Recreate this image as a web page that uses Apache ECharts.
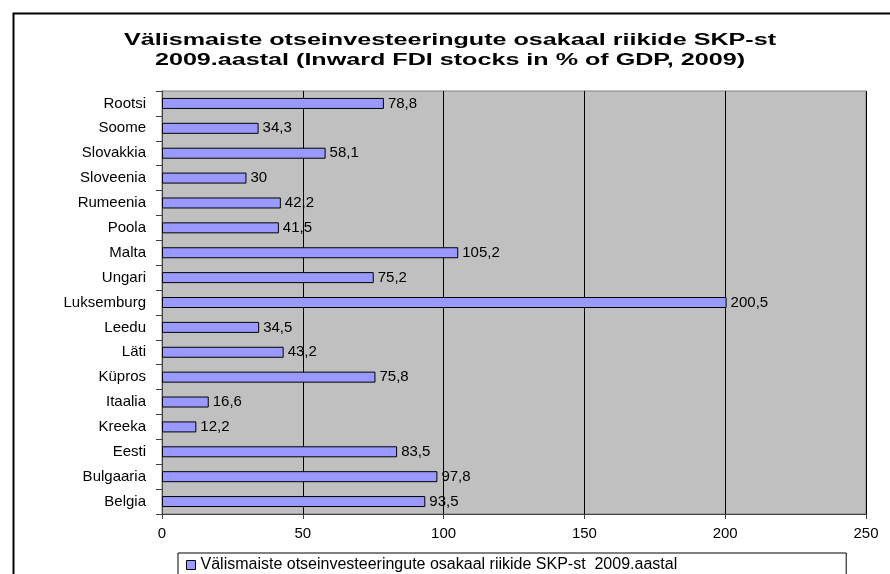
<!DOCTYPE html>
<html>
<head>
<meta charset="utf-8">
<script src="https://cdn.jsdelivr.net/npm/echarts@6/dist/echarts.min.js"></script>
<style>
  html, body { margin: 0; padding: 0; background: #fff; }
  #chart { width: 890px; height: 574px; }
</style>
</head>
<body>
<div id="chart"></div>
<script>
// riigid ülevalt alla
const countries = ['Rootsi', 'Soome', 'Slovakkia', 'Sloveenia', 'Rumeenia', 'Poola', 'Malta', 'Ungari',
  'Luksemburg', 'Leedu', 'Läti', 'Küpros', 'Itaalia', 'Kreeka', 'Eesti', 'Bulgaaria', 'Belgia']
const fdiShare = [78.8, 34.3, 58.1, 30, 42.2, 41.5, 105.2, 75.2, 200.5, 34.5, 43.2, 75.8, 16.6, 12.2, 83.5, 97.8, 93.5]
const xTicks = [0, 50, 100, 150, 200, 250]
const seriesName = 'Välismaiste otseinvesteeringute osakaal riikide SKP-st  2009.aastal'
const titleText = 'Välismaiste otseinvesteeringute osakaal riikide SKP-st\n2009.aastal (Inward FDI stocks in % of GDP, 2009)'

const font = 'Liberation Sans, Arial, sans-serif'
const chart = echarts.init(document.getElementById('chart'))

chart.setOption({
  backgroundColor: '#fff',
  animation: false,
  textStyle: { fontFamily: font },
  graphic: [{
    type: 'rect',
    left: 11, top: 11,
    shape: { width: 900, height: 600 },
    style: { fill: 'none', stroke: '#000', lineWidth: 2 },
    silent: true,
    z: -1
  }, {
    // pealkiri, Exceli laiendatud kirjaga
    type: 'text',
    x: 450, y: 31,
    scaleX: 1.57,
    silent: true,
    style: {
      text: titleText,
      font: 'bold 16px Liberation Sans, Arial, sans-serif',
      fill: '#000',
      align: 'center',
      verticalAlign: 'top',
      lineHeight: 20
    }
  }],
  legend: {
    left: 178,
    top: 553,
    padding: [4, 169, 8, 8],
    borderColor: '#000',
    borderWidth: 1,
    borderRadius: 0,
    icon: 'rect',
    itemWidth: 9,
    itemHeight: 9,
    itemGap: 6,
    itemStyle: { borderColor: '#000', borderWidth: 1 },
    textStyle: { fontFamily: font, fontSize: 16, color: '#000' },
    data: [seriesName]
  },
  grid: {
    left: 162, right: 24, top: 91, bottom: 60,
    show: true,
    backgroundColor: '#C0C0C0',
    borderColor: '#808080',
    borderWidth: 1
  },
  xAxis: {
    type: 'value',
    min: xTicks[0],
    max: xTicks[xTicks.length - 1],
    interval: 50,
    axisLine: { show: true, lineStyle: { color: '#404040', width: 1 } },
    axisTick: { show: true, inside: false, length: 5, lineStyle: { color: '#404040' } },
    axisLabel: { color: '#000', fontSize: 15, margin: 12, fontFamily: font },
    splitLine: { show: true, lineStyle: { color: '#000', width: 1 } }
  },
  yAxis: {
    type: 'category',
    data: countries,
    inverse: true,
    axisLine: { show: true, lineStyle: { color: '#404040', width: 1 } },
    axisTick: { show: true, inside: false, length: 6, lineStyle: { color: '#404040' } },
    axisLabel: { color: '#000', fontSize: 15, margin: 16, fontFamily: font },
    splitLine: { show: false }
  },
  series: [{
    name: seriesName,
    type: 'bar',
    data: fdiShare,
    barWidth: 11,
    itemStyle: { color: '#9999FF', borderColor: '#000', borderWidth: 1 },
    label: {
      show: true,
      position: 'right',
      distance: 4,
      color: '#000',
      fontSize: 15,
      fontFamily: font,
      formatter: p => String(p.value).replace('.', ',')
    }
  }]
})
</script>
</body>
</html>
